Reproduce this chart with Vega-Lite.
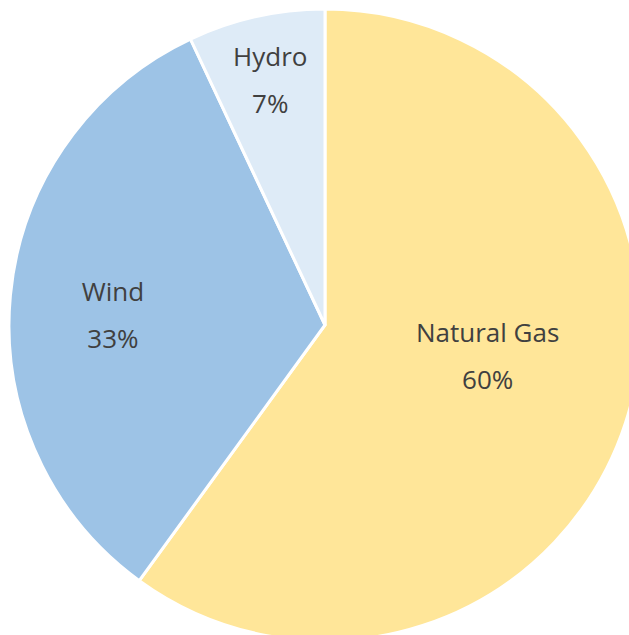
{
  "$schema": "https://vega.github.io/schema/vega-lite/v6.json",
  "width": 650,
  "height": 650,
  "padding": 0,
  "autosize": {"type": "none"},
  "background": "white",
  "view": {"stroke": null},
  "data": {
    "values": [
      {"source": "Natural Gas", "pct": 60},
      {"source": "Wind", "pct": 33},
      {"source": "Hydro", "pct": 7}
    ]
  },
  "transform": [
    {"window": [{"op": "row_number", "as": "idx"}]},
    {"stack": "pct", "groupby": [], "sort": [{"field": "idx", "order": "ascending"}], "as": ["p0", "p1"]},
    {"calculate": "(datum.p0 + datum.p1) / 2", "as": "pmid"},
    {"calculate": "datum.source + '\\n' + datum.pct + '%'", "as": "label"}
  ],
  "layer": [
    {
      "mark": {"type": "arc", "radius": 316, "stroke": "white", "strokeWidth": 3},
      "encoding": {
        "theta": {"field": "p0", "type": "quantitative", "scale": {"domain": [0, 100]}},
        "theta2": {"field": "p1"},
        "color": {
          "field": "source",
          "type": "nominal",
          "scale": {"domain": ["Natural Gas", "Wind", "Hydro"], "range": ["#FFE699", "#9DC3E6", "#DEEBF7"]},
          "legend": null
        }
      }
    },
    {
      "transform": [{"filter": "datum.source === 'Natural Gas'"}],
      "mark": {"type": "text", "radius": 171, "dy": -44, "font": "Open Sans", "fontSize": 26, "lineBreak": "\n", "lineHeight": 47, "align": "center", "baseline": "middle"},
      "encoding": {
        "theta": {"field": "pmid", "type": "quantitative", "scale": {"domain": [0, 100]}},
        "text": {"field": "label"},
        "color": {"value": "#404040"}
      }
    },
    {
      "transform": [{"filter": "datum.source === 'Wind'"}],
      "mark": {"type": "text", "radius": 213, "dy": -12, "font": "Open Sans", "fontSize": 26, "lineBreak": "\n", "lineHeight": 47, "align": "center", "baseline": "middle"},
      "encoding": {
        "theta": {"field": "pmid", "type": "quantitative", "scale": {"domain": [0, 100]}},
        "text": {"field": "label"},
        "color": {"value": "#404040"}
      }
    },
    {
      "transform": [{"filter": "datum.source === 'Hydro'"}],
      "mark": {"type": "text", "radius": 251, "dy": -22, "font": "Open Sans", "fontSize": 26, "lineBreak": "\n", "lineHeight": 47, "align": "center", "baseline": "middle"},
      "encoding": {
        "theta": {"field": "pmid", "type": "quantitative", "scale": {"domain": [0, 100]}},
        "text": {"field": "label"},
        "color": {"value": "#404040"}
      }
    }
  ]
}
